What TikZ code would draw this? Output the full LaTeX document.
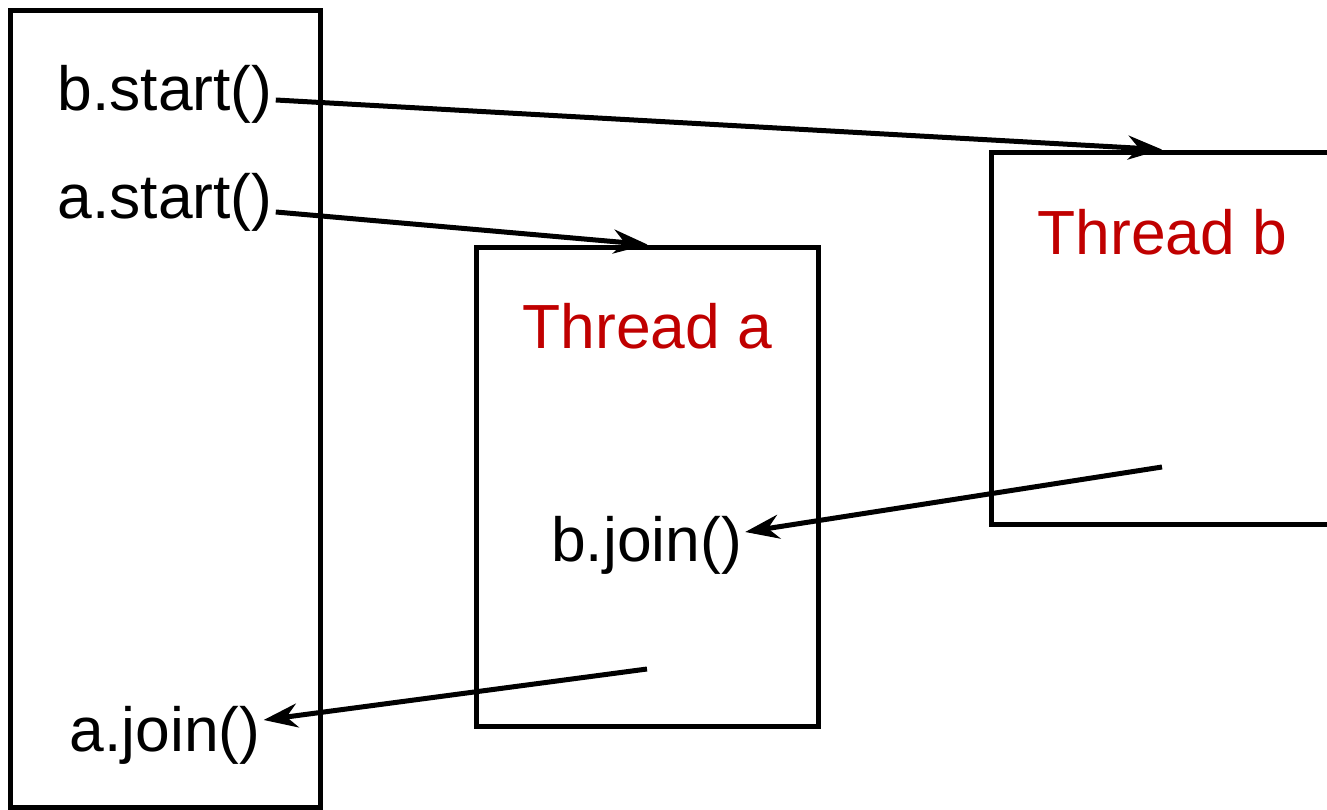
\documentclass[tikz,border=0pt]{standalone}
\usepackage{fontspec}
\setmainfont{Liberation Sans}
\usetikzlibrary{arrows.meta}
\definecolor{threadred}{RGB}{192,0,0}

\begin{document}
\begin{tikzpicture}[x=0.02cm,y=-0.02cm]

    % スタイルの定義
    \tikzset{
        box/.style={draw,line width=0.1cm,inner sep=0pt},
        call/.style={inner sep=0.06cm,font=\fontsize{35.5}{42}\selectfont},
        title/.style={call,text=threadred},
        arr/.style={-{Stealth[length=0.68cm,width=0.48cm,inset=0.22cm]},line width=0.1cm}
    }

    \useasboundingbox (0,0) rectangle (1327,810);

    % 枠を描画
    \node[box,minimum width=6.22cm,minimum height=15.96cm] (mainbox) at (165.5,409) {};
    \node[box,minimum width=6.86cm,minimum height=9.6cm] (boxa) at (647.5,487) {};
    \node[box,minimum width=6.84cm,minimum height=7.46cm] (boxb) at (1162,338.5) {};

    % 文字の描画
    \node[call] (bstart) at (165,94) {b.start()};
    \node[call] (astart) at (165,202) {a.start()};
    \node[call] (ajoin) at (165,735) {a.join()};
    \node[call] (bjoin) at (646.5,545) {b.join()};
    \node[title] (tha) at (647.5,326) {Thread a};
    \node[title] (thb) at (1162.5,232) {Thread b};

    \coordinate (bend) at (1162,467);
    \coordinate (aend) at (647,669);

    % 矢印の描画
    \draw[arr] ([yshift=-0.12cm]bstart.east) -- (boxb.north);
    \draw[arr] ([yshift=-0.2cm]astart.east) -- (boxa.north);
    \draw[arr] (bend) -- ([yshift=0.26cm]bjoin.east);
    \draw[arr] (aend) -- ([yshift=0.3cm]ajoin.east);

\end{tikzpicture}
\end{document}
